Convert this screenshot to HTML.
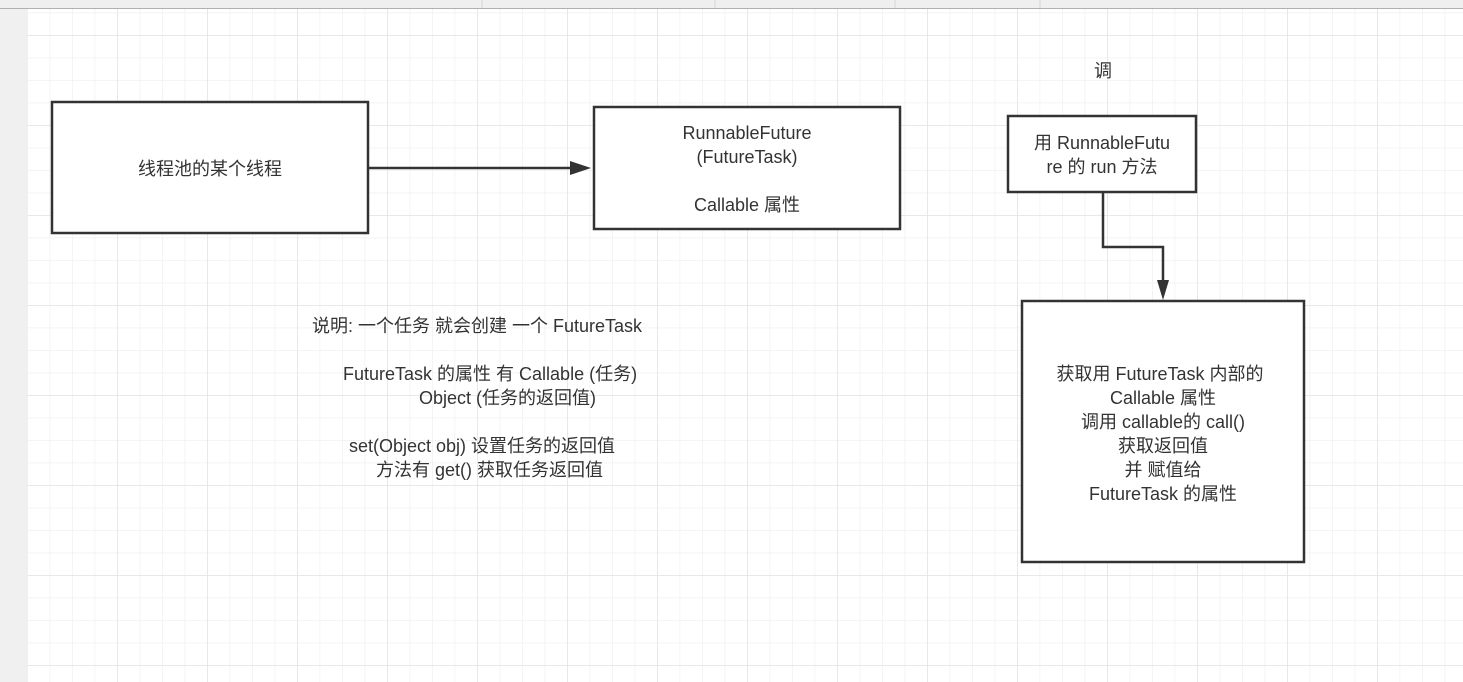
<!DOCTYPE html>
<html><head><meta charset="utf-8"><style>
html,body{margin:0;padding:0;background:#fff;}
svg{display:block;}
text{font-family:"Liberation Sans","Noto Sans CJK SC",sans-serif;font-size:18px;fill:#333;}
</style></head><body>
<svg width="1463" height="682" xmlns="http://www.w3.org/2000/svg">
<defs>
<pattern id="minor" x="27" y="35" width="22.5" height="22.5" patternUnits="userSpaceOnUse">
<path d="M0 0H22.5M0 0V22.5" stroke="#f0f0f0" stroke-width="1.5" fill="none"/>
</pattern>
<pattern id="major" x="27" y="35" width="90" height="90" patternUnits="userSpaceOnUse">
<path d="M0 0H90M0 0V90" stroke="#e4e4e4" stroke-width="1.5" fill="none"/>
</pattern>
</defs>
<rect x="0" y="0" width="1463" height="682" fill="#fff"/>
<rect x="28" y="9" width="1435" height="673" fill="url(#minor)"/>
<rect x="28" y="9" width="1435" height="673" fill="url(#major)"/>
<rect x="0" y="0" width="28" height="682" fill="#f0f0f0"/>
<rect x="0" y="0" width="1463" height="8" fill="#efefef"/>
<line x1="0" y1="8.5" x2="1463" y2="8.5" stroke="#b0b0b0" stroke-width="1"/>
<g stroke="#d4d4d4"><line x1="482" y1="0" x2="482" y2="8"/><line x1="715" y1="0" x2="715" y2="8"/><line x1="895" y1="0" x2="895" y2="8"/><line x1="1040" y1="0" x2="1040" y2="8"/></g>

<g fill="#fff" stroke="#333" stroke-width="2.5">
<rect x="52" y="102" width="316" height="131"/>
<rect x="594" y="107" width="306" height="122"/>
<rect x="1008" y="116" width="188" height="76"/>
<rect x="1022" y="301" width="282" height="261"/>
</g>

<path d="M368 168H572" stroke="#333" stroke-width="2.5" fill="none"/>
<path d="M570 161L591 168L570 175Z" fill="#333"/>
<path d="M1103 192V247H1163V282" stroke="#333" stroke-width="2.5" fill="none"/>
<path d="M1157 280L1163 300L1169 280Z" fill="#333"/>

<g text-anchor="middle">
<text x="210" y="175">线程池的某个线程</text>
<text x="747" y="139">RunnableFuture</text>
<text x="747" y="163">(FutureTask)</text>
<text x="747" y="211">Callable  属性</text>
<text x="1103" y="77">调</text>
<text x="1102" y="149">用 RunnableFutu</text>
<text x="1102" y="173">re 的 run 方法</text>
<text x="1160" y="380">获取用 FutureTask 内部的</text>
<text x="1163" y="404">Callable 属性</text>
<text x="1163" y="428">调用 callable的 call()</text>
<text x="1163" y="452">获取返回值</text>
<text x="1163" y="476">并 赋值给</text>
<text x="1163" y="500">FutureTask 的属性</text>
</g>
<g xml:space="preserve">
<text x="312" y="332">说明:  一个任务 就会创建  一个  FutureTask</text>
<text x="343" y="380">FutureTask 的属性 有 Callable (任务)</text>
<text x="419" y="404">Object   (任务的返回值)</text>
<text x="349" y="452">set(Object  obj)  设置任务的返回值</text>
<text x="376" y="476">方法有 get()  获取任务返回值</text>
</g>
</svg>
</body></html>
